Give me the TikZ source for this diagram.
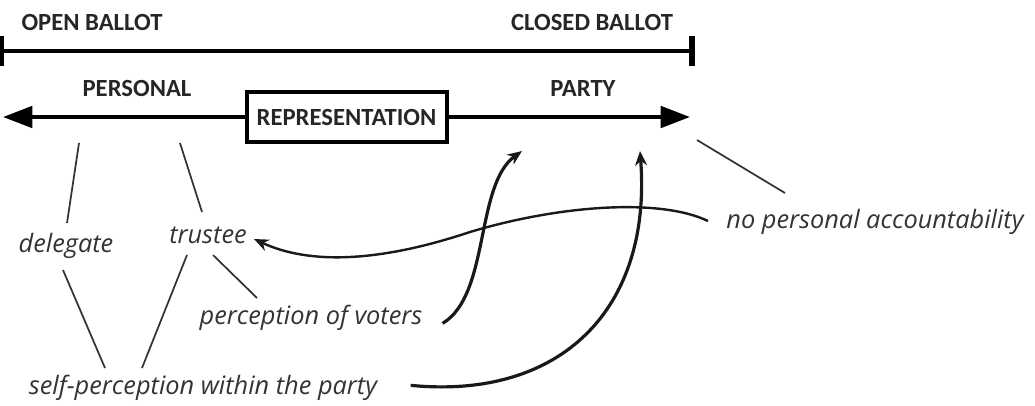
\documentclass[tikz,border=0pt]{standalone}
\usepackage{fontspec}
\setmainfont{Carlito}
\newfontfamily\itfont{Open Sans}
\usetikzlibrary{arrows.meta}
\begin{document}
\begin{tikzpicture}[x=0.75pt,y=-0.75pt,
  head/.style={font=\fontsize{18.5}{22}\selectfont\bfseries, text=black!85, inner sep=0pt},
  lab/.style={font=\itfont\fontsize{19}{22}\selectfont\itshape, text=black!80, inner sep=0pt},
  thin/.style={line width=1.3pt, draw=black!80},
  bold/.style={line width=3pt, draw=black},
  curv/.style={line width=2pt, draw=black!90, -{Stealth[length=11pt,width=9pt]}},
]
\useasboundingbox (0,0) rectangle (1035,405);
% headings
\node[head] (open) at (92,22) {OPEN BALLOT};
\node[head] (closed) at (592,22) {CLOSED BALLOT};
\node[head] (personal) at (137,88) {PERSONAL};
\node[head] (party) at (583,88) {PARTY};
% top scale
\coordinate (tl) at (1.5,51);
\coordinate (tr) at (692,51);
\draw[bold] (tl) -- (tr);
\draw[bold, line width=4pt] (1.5,36) -- (1.5,66);
\draw[bold, line width=4pt] (692,36) -- (692,66);
% representation
\node[draw=black, line width=3pt, minimum width=150pt, minimum height=37pt, inner sep=0pt,
  font=\fontsize{18.5}{22}\selectfont\bfseries, text=black!85] (rep) at (346.5,117) {REPRESENTATION};
\coordinate (la) at (3,117);
\coordinate (ra) at (690,117);
\draw[bold, -{Triangle[length=22pt,width=16pt]}] (rep.west) -- (la);
\draw[bold, -{Triangle[length=22pt,width=16pt]}] (rep.east) -- (ra);
% labels
\node[lab] (del) at (66,246) {delegate};
\node[lab] (tru) at (208,235) {trustee};
\node[lab] (pov) at (311,318) {perception of voters};
\node[lab] (spp) at (203,388) {self-perception within the party};
\node[lab] (npa) at (875,222) {no personal accountability};
% thin lines
\coordinate (a1) at (79,143); \coordinate (a2) at (67,223);
\coordinate (b1) at (180,143); \coordinate (b2) at (202,212);
\coordinate (c1) at (63,270); \coordinate (c2) at (105,368);
\coordinate (d1) at (187,255); \coordinate (d2) at (142,368);
\coordinate (e1) at (213,255); \coordinate (e2) at (257,298);
\coordinate (f1) at (697,140); \coordinate (f2) at (785,193);
\draw[thin] (a1) -- (a2);
\draw[thin] (b1) -- (b2);
\draw[thin] (c1) -- (c2);
\draw[thin] (d1) -- (d2);
\draw[thin] (e1) -- (e2);
\draw[thin] (f1) -- (f2);
% curved arrows
\coordinate (p1) at (522,151);
\coordinate (p2) at (640,151);
\coordinate (t1) at (254,239);
\coordinate (s3) at (708,221);
\draw[curv, line width=2.4pt] ([xshift=15pt,yshift=-4pt]pov.east) .. controls (490,295) and (475,185) .. (p1);
\draw[curv, line width=2.4pt] ([xshift=25pt,yshift=2pt]spp.east) .. controls (560,400) and (652,310) .. (p2);
\draw[curv, line width=1.8pt] (s3) .. controls (660,198) and (560,205) .. (470,232)
   .. controls (380,262) and (310,265) .. (t1);
\end{tikzpicture}
\end{document}
